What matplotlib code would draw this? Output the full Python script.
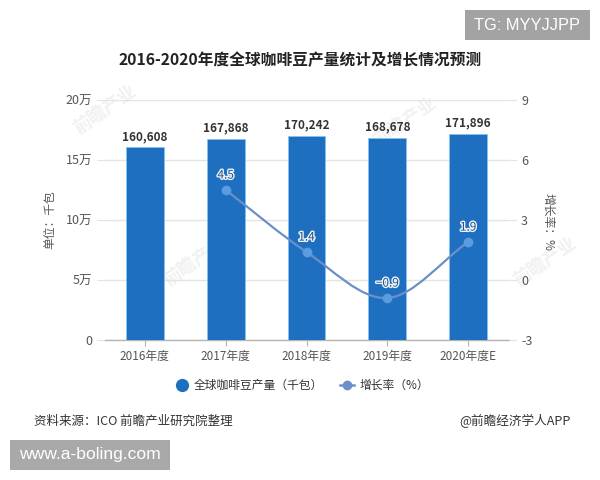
import matplotlib
matplotlib.use('Agg')
import matplotlib.pyplot as plt
import matplotlib.patheffects as pe
from matplotlib.path import Path
from matplotlib.patches import PathPatch, Rectangle
from matplotlib.lines import Line2D

plt.rcParams['font.family'] = ['Noto Sans CJK SC', 'DejaVu Sans']

years = ['2016年度', '2017年度', '2018年度', '2019年度', '2020年度E']
output = [160608, 167868, 170242, 168678, 171896]
growth = [4.5, 1.4, -0.9, 1.9]
growth_idx = [1, 2, 3, 4]
left_ticks = [0, 50000, 100000, 150000, 200000]
left_labels = ['0', '5万', '10万', '15万', '20万']
right_ticks = [-3, 0, 3, 6, 9]

BAR = '#1f6fc0'
LINE = '#6d8fc9'
GRID = '#e4e4e4'
TXT = '#555555'
W, H = 600, 480


def smooth_path(xs, ys, k=0.33):
    # bezier through the points, tangents taken from the neighbours
    verts = [(xs[0], ys[0])]
    codes = [Path.MOVETO]
    n = len(xs)
    for i in range(n - 1):
        a = max(i - 1, 0)
        b = min(i + 2, n - 1)
        verts.append((xs[i] + (xs[i + 1] - xs[a]) * k / (i + 1 - a), ys[i] + (ys[i + 1] - ys[a]) * k / (i + 1 - a)))
        verts.append((xs[i + 1] - (xs[b] - xs[i]) * k / (b - i), ys[i + 1] - (ys[b] - ys[i]) * k / (b - i)))
        verts.append((xs[i + 1], ys[i + 1]))
        codes += [Path.CURVE4] * 3
    return Path(verts, codes)


fig = plt.figure(figsize=(W / 100, H / 100), dpi=100)
ax = fig.add_axes([104.5 / W, 1 - 340 / H, 404 / W, 240 / H])
ax2 = ax.twinx()
# watermarks sit on the figure, so the axes must not hide them
ax.set_zorder(1)
ax2.set_zorder(2)
ax.patch.set_visible(False)
ax2.patch.set_visible(False)

x = list(range(len(years)))
ax.bar(x, output, width=0.47, color=BAR, edgecolor='#7fc4ee', linewidth=0.6, zorder=3)
ax.set_xlim(-0.5, 4.5)
ax.set_ylim(0, 200000)
ax.set_xticks(x)
ax.set_xticklabels(years, fontsize=8.5, color=TXT)
ax.set_yticks(left_ticks)
ax.set_yticklabels(left_labels, fontsize=9, color=TXT)
ax.grid(axis='y', color=GRID, linewidth=1, zorder=0)
ax.set_axisbelow(True)
ax.tick_params(axis='y', length=6, color=GRID, pad=3)
ax.tick_params(axis='x', length=4, color='#b5b5b5', pad=3)
for s in ['top', 'left', 'right']:
    ax.spines[s].set_visible(False)
ax.spines['bottom'].set_color('#b5b5b5')
ax.spines['bottom'].set_linewidth(1)

for i, v in enumerate(output):
    ax.text(i, v + 3500, f'{v:,}', ha='center', va='bottom', fontsize=8.5,
            fontweight='bold', color='#333333', zorder=6)

ax2.set_ylim(-3, 9)
ax2.set_yticks(right_ticks)
ax2.set_yticklabels([str(t) for t in right_ticks], fontsize=9, color=TXT)
ax2.tick_params(axis='y', length=6, color=GRID, pad=3)
for s in ax2.spines.values():
    s.set_visible(False)

ax2.add_patch(PathPatch(smooth_path(growth_idx, growth), fill=False, edgecolor=LINE,
                        linewidth=1.6, zorder=5))
ax2.plot(growth_idx, growth, 'o', color='#5b9be0', markersize=6, zorder=6)
for i, v in zip(growth_idx, growth):
    ax2.text(i, v + 0.42, str(v).replace('-', '−'), ha='center', va='bottom', fontsize=8.5,
             color='#2a4f7c', zorder=7,
             path_effects=[pe.withStroke(linewidth=2, foreground='#eaf4fc')])

fig.text(300.5 / W, 1 - 60 / H, '2016-2020年度全球咖啡豆产量统计及增长情况预测', ha='center', va='center',
         fontsize=11.3, fontweight='bold', color='#222222')
fig.text(50 / W, 1 - 220 / H, '单位：千包', rotation=90, ha='center', va='center', fontsize=8.5, color=TXT)
fig.text(548 / W, 1 - 222 / H, '增长率：%', rotation=270, ha='center', va='center', fontsize=8.5, color=TXT)

# legend row
fig.add_artist(Line2D([181.5 / W], [1 - 385 / H], marker='o', color=BAR, markersize=8.5, linestyle=''))
fig.text(194 / W, 1 - 385 / H, '全球咖啡豆产量（千包）', ha='left', va='center', fontsize=8.5, color='#333333')
fig.add_artist(Line2D([340 / W, 354 / W], [1 - 385 / H] * 2, color=LINE, linewidth=1.8))
fig.add_artist(Line2D([347 / W], [1 - 385 / H], marker='o', color=LINE, markersize=6, linestyle=''))
fig.text(360 / W, 1 - 385 / H, '增长率（%）', ha='left', va='center', fontsize=8.5, color='#333333')

fig.text(34 / W, 1 - 421 / H, '资料来源：ICO 前瞻产业研究院整理', ha='left', va='center', fontsize=9, color='#333333')
fig.text(571 / W, 1 - 421 / H, '@前瞻经济学人APP', ha='right', va='center', fontsize=9.1, color='#333333')

# grey stamps on top of the picture
fig.add_artist(Rectangle((465 / W, 1 - 40 / H), 125 / W, 30 / H, transform=fig.transFigure,
                         facecolor='#a3a3a3', edgecolor='none', zorder=5))
fig.text(527.5 / W, 1 - 25 / H, 'TG: MYYJJPP', ha='center', va='center', fontsize=11.8, color='white',
         family='Liberation Sans', zorder=6)
fig.add_artist(Rectangle((10 / W, 1 - 470 / H), 160 / W, 30 / H, transform=fig.transFigure,
                         facecolor='#a9a9a9', edgecolor='none', zorder=5))
fig.text(90 / W, 1 - 455 / H, 'www.a-boling.com', ha='center', va='center', fontsize=12.6, color='white',
         family='Liberation Sans', zorder=6)

# faint site watermarks, under the axes
for wx, wy in [(105, 110), (405, 122), (195, 262), (545, 262)]:
    fig.text(wx / W, 1 - wy / H, '前瞻产业', rotation=35, ha='center', va='center', fontsize=13,
             color='#f1f1f1', fontweight='bold', zorder=0)

fig.savefig('out.png', dpi=100)
